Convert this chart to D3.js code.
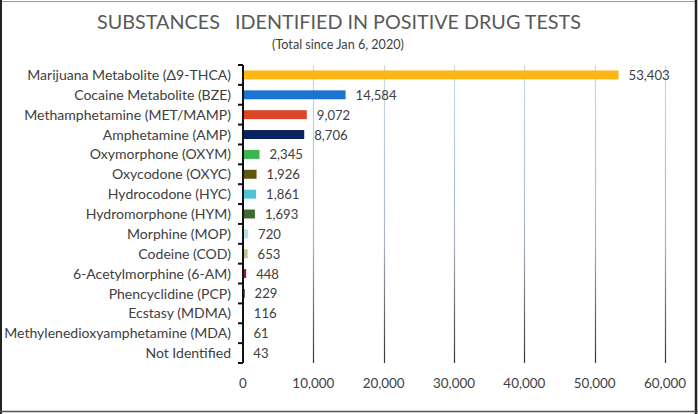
<!DOCTYPE html>
<html><head><meta charset="utf-8">
<script src="https://cdn.jsdelivr.net/npm/d3@7"></script>
<style>
html,body{margin:0;padding:0;background:#fff;}
svg{display:block;}
text{font-family:Lato,"Open Sans",sans-serif;}
</style></head>
<body>
<svg id="chart" width="698" height="414"></svg>
<script>
const categories = ["Marijuana Metabolite (Δ9-THCA)","Cocaine Metabolite (BZE)","Methamphetamine (MET/MAMP)","Amphetamine (AMP)","Oxymorphone (OXYM)","Oxycodone (OXYC)","Hydrocodone (HYC)","Hydromorphone (HYM)","Morphine (MOP)","Codeine (COD)","6-Acetylmorphine (6-AM)","Phencyclidine (PCP)","Ecstasy (MDMA)","Methylenedioxyamphetamine (MDA)","Not Identified"];
const values = [53403,14584,9072,8706,2345,1926,1861,1693,720,653,448,229,116,61,43];
const colors = ["#FDB714","#1B75D0","#DD4529","#0A215F","#3DB54E","#5E580A","#4FC3D6","#3E6B34","#B8DCE6","#C8C08E","#9B1B36","#111111","#333333","#333333","#333333"];
const xTicks = [0,10000,20000,30000,40000,50000,60000];
const title = "SUBSTANCES   IDENTIFIED IN POSITIVE DRUG TESTS";
const subtitle = "(Total since Jan 6, 2020)";

const svg = d3.select("#chart");
// border
svg.append("rect").attr("x",0.5).attr("y",1.5).attr("width",696).attr("height",410)
  .attr("fill","none").attr("stroke","#9a9a9a").attr("stroke-width",1);
svg.append("line").attr("x1",1).attr("x2",1).attr("y1",0).attr("y2",414).attr("stroke","#222").attr("stroke-width",2);
svg.append("line").attr("x1",696).attr("x2",696).attr("y1",0).attr("y2",414).attr("stroke","#222").attr("stroke-width",2.5);
svg.append("line").attr("x1",0).attr("x2",698).attr("y1",411.5).attr("y2",411.5).attr("stroke","#555").attr("stroke-width",1.5);

const x = d3.scaleLinear().domain([0,60000]).range([243,665]);
const y = d3.scaleBand().domain(categories).range([65,363]).paddingInner(0.55).paddingOuter(0.275);
const yb = d3.scaleBand().domain(categories).range([65,363]);

function fitScale(sel, w){
  const cur = sel.node().getComputedTextLength();
  return w / cur;
}

// gradient for gridlines
const defs = svg.append("defs");
const g = defs.append("linearGradient").attr("id","gridg").attr("gradientUnits","userSpaceOnUse")
  .attr("x1",0).attr("x2",0).attr("y1",65).attr("y2",363);
g.append("stop").attr("offset","0%").attr("stop-color","#c9dbea");
g.append("stop").attr("offset","60%").attr("stop-color","#a9b4c0");
g.append("stop").attr("offset","100%").attr("stop-color","#333");

svg.append("g").selectAll("line").data(xTicks.slice(1)).join("line")
  .attr("x1",d=>Math.round(x(d))+0.5).attr("x2",d=>Math.round(x(d))+0.5)
  .attr("y1",65).attr("y2",363).attr("stroke","url(#gridg)").attr("stroke-width",1.2);

// bars
svg.append("g").selectAll("rect").data(values).join("rect")
  .attr("x",x(0)).attr("y",(d,i)=>y(categories[i]))
  .attr("width",d=>Math.max(x(d)-x(0),0.6)).attr("height",y.bandwidth())
  .attr("fill",(d,i)=>colors[i]);

// y axis line
svg.append("line").attr("x1",x(0)).attr("x2",x(0)).attr("y1",65).attr("y2",363)
  .attr("stroke","#111").attr("stroke-width",2);
const bounds = categories.map(c=>yb(c)).concat([363]);
svg.append("g").selectAll("line").data(bounds).join("line")
  .attr("x1",x(0)-5).attr("x2",x(0)).attr("y1",d=>d).attr("y2",d=>d)
  .attr("stroke","#111").attr("stroke-width",2);

// category labels
const catT = svg.append("g").selectAll("text").data(categories).join("text")
  .attr("x",231).attr("y",d=>yb(d)+yb.bandwidth()/2).attr("dy","0.36em")
  .attr("text-anchor","end").attr("font-size",13).attr("fill","#404040").text(d=>d);
const kc = fitScale(catT.filter((d,i)=>i===13), 227);
catT.attr("font-size",13*kc);

// value labels
const valT = svg.append("g").selectAll("text").data(values).join("text")
  .attr("x",d=>x(d)+10).attr("y",(d,i)=>yb(categories[i])+yb.bandwidth()/2).attr("dy","0.38em")
  .attr("font-size",13.5).attr("fill","#404040").text(d=>d3.format(",")(d));
const kv = fitScale(valT.filter((d,i)=>i===0), 41);
valT.attr("font-size",13.5*kv);

// x tick labels
const xt = svg.append("g").selectAll("text").data(xTicks).join("text")
  .attr("x",d=>x(d)).attr("y",383).attr("dy","0.36em").attr("text-anchor","middle")
  .attr("font-size",13).attr("fill","#404040").text(d=>d3.format(",")(d));
const kx = fitScale(xt.filter((d,i)=>i===6), 42);
xt.attr("font-size",13*kx);

// title
const t = svg.append("text").attr("x",339).attr("y",29).attr("text-anchor","middle")
  .attr("font-size",22).attr("fill","#595959").style("white-space","pre").text(title);
t.attr("font-size",22*fitScale(t,484));
const st = svg.append("text").attr("x",338).attr("y",49).attr("text-anchor","middle")
  .attr("font-size",11).attr("fill","#404040").text(subtitle);
st.attr("font-size",11*fitScale(st,132));
</script>
</body></html>
